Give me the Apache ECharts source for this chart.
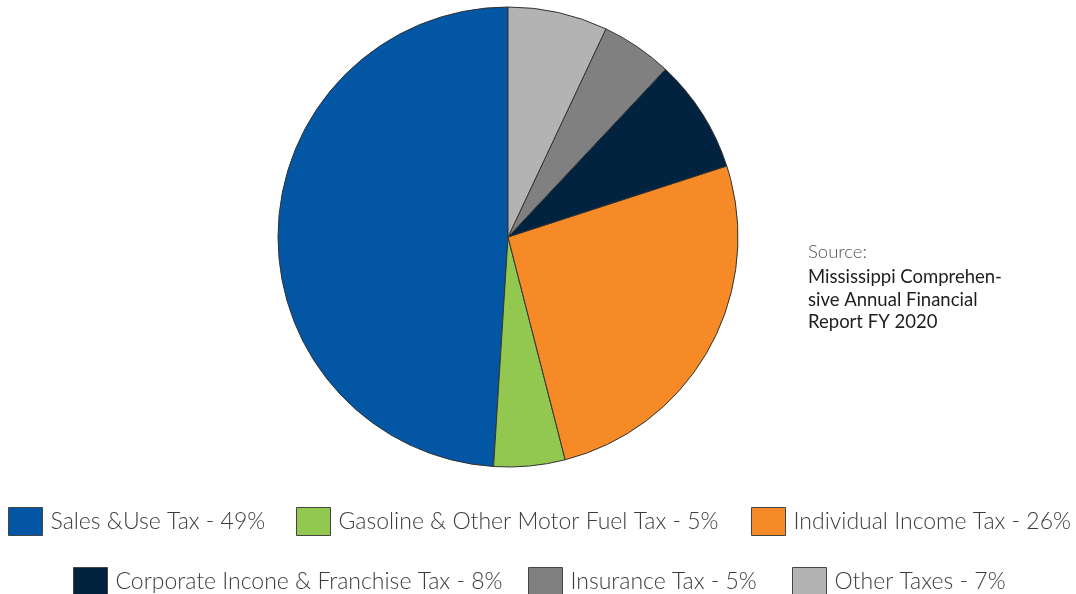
<!DOCTYPE html>
<html>
<head>
<meta charset="utf-8">
<script src="https://cdn.jsdelivr.net/npm/echarts@6/dist/echarts.min.js"></script>
<style>
  html, body { margin: 0; padding: 0; background: #ffffff; }
  #chart { width: 1076px; height: 594px; }
</style>
</head>
<body>
<div id="chart"></div>
<script>
// Mississippi tax revenue by source, FY 2020 (share of total, %)
const categories = [
  'Sales &Use Tax',
  'Gasoline & Other Motor Fuel Tax',
  'Individual Income Tax',
  'Corporate Incone & Franchise Tax',
  'Insurance Tax',
  'Other Taxes'
];
const shares = [49, 5, 26, 8, 5, 7];
const colors = ['#0256A3', '#92C850', '#F68A27', '#01233F', '#808080', '#B3B3B3'];

// legend placement: [left, top] of each swatch
const legendSpots = [[8, 507], [296, 507], [751, 507], [73, 567], [528, 567], [792, 567]];

const chart = echarts.init(document.getElementById('chart'), null, { renderer: 'canvas' });

const legends = categories.map((name, i) => ({
  data: [name],
  left: legendSpots[i][0],
  top: legendSpots[i][1],
  padding: 0,
  itemWidth: 34,
  itemHeight: 28,
  icon: 'rect',
  selectedMode: true,
  itemStyle: { borderColor: '#444', borderWidth: 1 },
  formatter: n => n + ' - ' + shares[categories.indexOf(n)] + '%',
  textStyle: {
    fontFamily: 'Lato',
    fontWeight: 300,
    fontSize: 23,
    color: '#3c3c3c',
    padding: [0, 0, 9, 3]
  }
}));

chart.setOption({
  backgroundColor: '#ffffff',
  animation: false,
  color: colors,
  legend: legends,
  graphic: [
    {
      type: 'text',
      left: 808,
      top: 243,
      style: {
        text: 'Source:',
        font: '300 18.5px Lato',
        fill: '#555555'
      }
    },
    {
      type: 'text',
      left: 808,
      top: 266,
      style: {
        text: 'Mississippi Comprehen-\nsive Annual Financial\nReport FY 2020',
        font: '400 18.5px Lato',
        lineHeight: 22.5,
        fill: '#1e1e1e'
      }
    }
  ],
  series: [{
    type: 'pie',
    center: [508, 237],
    radius: 230,
    startAngle: 90,
    clockwise: false,
    label: { show: false },
    labelLine: { show: false },
    emphasis: { scale: false },
    itemStyle: { borderColor: '#333333', borderWidth: 1 },
    data: categories.map((name, i) => ({ name, value: shares[i] }))
  }]
});
</script>
</body>
</html>
